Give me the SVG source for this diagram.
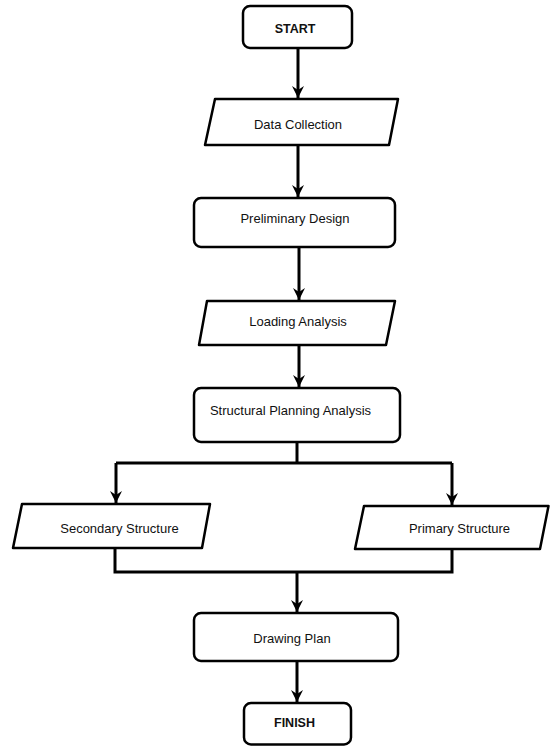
<svg xmlns="http://www.w3.org/2000/svg" width="550" height="746" viewBox="0 0 550 746">
<style>
.box{fill:#fff;stroke:#000;stroke-width:2.5;stroke-linejoin:round}
.t{font-family:"Liberation Sans",Arial,sans-serif;font-size:13px;fill:#111;text-anchor:middle}
.b{font-weight:bold;font-size:12.5px}
.c{fill:none;stroke:#000;stroke-width:3}
</style>
<defs>
<marker id="ah" markerUnits="userSpaceOnUse" markerWidth="14" markerHeight="14" viewBox="0 0 14 14" refX="12" refY="7" orient="auto">
<path d="M0,1 L12,7 L0,13 L4,7 z" fill="#000"/>
</marker>
</defs>
<rect width="550" height="746" fill="#fff"/>
<g id="connectors">
<line class="c" x1="298" y1="48" x2="298" y2="98" marker-end="url(#ah)"/>
<line class="c" x1="298" y1="145" x2="298" y2="197" marker-end="url(#ah)"/>
<line class="c" x1="299" y1="247" x2="299" y2="300" marker-end="url(#ah)"/>
<line class="c" x1="299" y1="345" x2="299" y2="387" marker-end="url(#ah)"/>
<polyline class="c" points="297,442 297,463"/>
<polyline class="c" points="116,463 452,463"/>
<line class="c" x1="116" y1="463" x2="116" y2="503" marker-end="url(#ah)"/>
<line class="c" x1="452" y1="463" x2="452" y2="505" marker-end="url(#ah)"/>
<polyline class="c" points="115,548 115,572 452,572 452,549"/>
<line class="c" x1="297" y1="572" x2="297" y2="612" marker-end="url(#ah)"/>
<line class="c" x1="297" y1="661" x2="297" y2="702" marker-end="url(#ah)"/>
</g>
<g id="start">
<rect class="box" x="243" y="6" width="109" height="42" rx="7"/>
<text class="t b" x="295" y="33">START</text>
</g>
<g id="data-collection">
<polygon class="box" points="215,99 398,99 389,145 205,145"/>
<text class="t" x="298" y="129">Data Collection</text>
</g>
<g id="preliminary-design">
<rect class="box" x="194" y="198" width="201" height="49" rx="7"/>
<text class="t" x="295" y="223">Preliminary Design</text>
</g>
<g id="loading-analysis">
<polygon class="box" points="207,301 395,301 386,345 199,345"/>
<text class="t" x="298" y="326">Loading Analysis</text>
</g>
<g id="structural-planning">
<rect class="box" x="194" y="388" width="206" height="54" rx="7"/>
<text class="t" x="290.5" y="415">Structural Planning Analysis</text>
</g>
<g id="secondary-structure">
<polygon class="box" points="22,504 210,504 202,548 13,548"/>
<text class="t" x="119.5" y="533">Secondary Structure</text>
</g>
<g id="primary-structure">
<polygon class="box" points="364,506 548.5,506 540,549 355,549"/>
<text class="t" x="459.5" y="533">Primary Structure</text>
</g>
<g id="drawing-plan">
<rect class="box" x="194" y="613" width="204" height="48" rx="7"/>
<text class="t" x="292" y="643">Drawing Plan</text>
</g>
<g id="finish">
<rect class="box" x="244" y="703" width="107" height="41.5" rx="7"/>
<text class="t b" x="294.5" y="727">FINISH</text>
</g>
</svg>
